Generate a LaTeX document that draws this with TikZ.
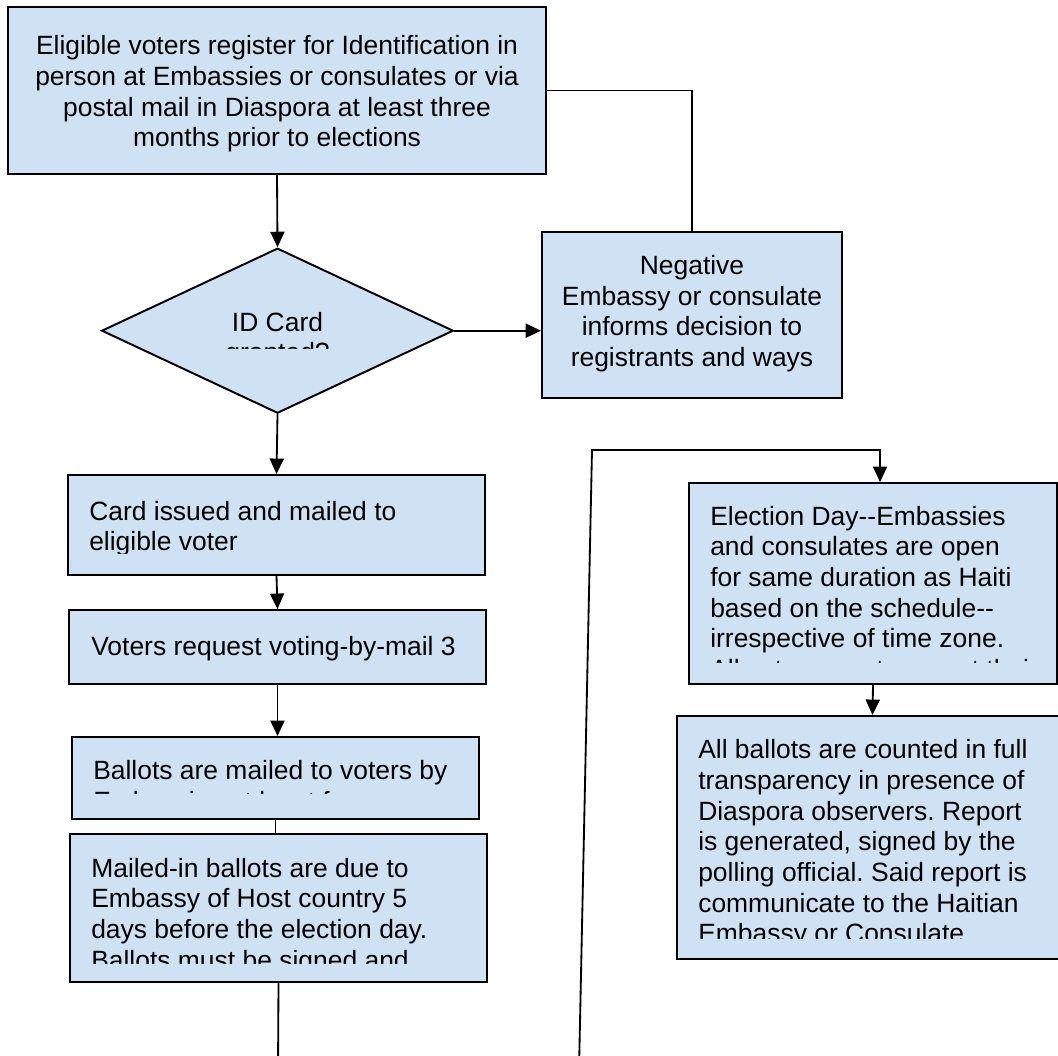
\documentclass[tikz,border=0pt]{standalone}
\usepackage{fontspec}
\setmainfont{Liberation Sans}
\usetikzlibrary{arrows.meta,fit,shapes.geometric}
\definecolor{boxfill}{HTML}{CFE2F3}
\frenchspacing

\begin{document}
\begin{tikzpicture}[x=0.025cm,y=-0.025cm,
  box/.style={draw=black,line width=1.4pt,fill=boxfill,inner sep=0pt},
  txt/.style={inner sep=0pt,align=left,anchor=north west,
    font=\fontsize{18.8}{21.8}\selectfont,execute at begin node=\strut},
  ctxt/.style={txt,align=center,anchor=north},
  arr/.style={-{Triangle[length=11pt,width=10pt]},line width=1.3pt},
  link/.style={line width=1.3pt}]
  \path[use as bounding box,clip] (0,0) rectangle (1058,1055);

  \node[box,fit={(8,7) (546,174)}] (reg) {};
  \node[ctxt] (regtxt) at (277,35.4) {Eligible voters register for Identification in\\
    person at Embassies or consulates or via\\postal mail in Diaspora at least three\\
    months prior to elections};

  \node[box,fit={(542,232) (842,398)}] (neg) {};
  \node[ctxt] (negtxt) at (692,255) {Negative\\Embassy or consulate\\
    informs decision to\\registrants and ways};

  \node[box,diamond,minimum width=8.79cm,minimum height=4.125cm] (dec) at (277.5,330.7) {};
  \begin{scope}
    \clip (100,240) rectangle (455,348);
    \node[ctxt] (dectxt) at (277.5,311.7) {ID Card\\granted?};
  \end{scope}

  \node[box,fit={(68,475) (485,575)}] (card) {};
  \begin{scope}
    \clip (68,475) rectangle (485,553);
    \node[txt] (cardtxt) at (89,500.7) {Card issued and mailed to\\eligible voter};
  \end{scope}

  \node[box,fit={(69,610) (486,684)}] (req) {};
  \node[txt] (reqtxt) at (91,633.5) {Voters request voting-by-mail 3};

  \node[box,fit={(72,737) (479,819)}] (mailout) {};
  \begin{scope}
    \clip (72,737) rectangle (479,793);
    \node[txt] (mailouttxt) at (93,760) {Ballots are mailed to voters by\\
      Embassies at least four};
  \end{scope}

  \node[box,fit={(70,834) (487,982)}] (mailin) {};
  \begin{scope}
    \clip (70,834) rectangle (487,963);
    \node[txt] (mailintxt) at (91,857.6) {Mailed-in ballots are due to\\
      Embassy of Host country 5\\days before the election day.\\
      Ballots must be signed and};
  \end{scope}

  \node[box,fit={(689,483) (1057,684)}] (eday) {};
  \begin{scope}
    \clip (689,483) rectangle (1057,662);
    \node[txt] (edaytxt) at (710,505.7) {Election Day-{}-Embassies\\
      and consulates are open\\for same duration as Haiti\\
      based on the schedule-{}-\\irrespective of time zone.\\
      All voters must present their};
  \end{scope}

  \node[box,fit={(677,716) (1068,959)}] (count) {};
  \begin{scope}
    \clip (677,716) rectangle (1068,938.5);
    \node[txt] (counttxt) at (698,739.3) {All ballots are counted in full\\
      transparency in presence of\\Diaspora observers. Report\\
      is generated, signed by the\\polling official. Said report is\\
      communicate to the Haitian\\Embassy or Consulate};
  \end{scope}

  \coordinate (out1) at (278,1070);
  \coordinate (in2) at (579,1070);
  \coordinate (turn) at (592,450);
  \draw[arr] (reg.south) -- (dec.north);
  \draw[arr] (dec.east) -- (dec.east -| neg.west);
  \draw[link] (reg.east) -| (neg.north);
  \draw[arr] (dec.south) -- (card.north);
  \draw[arr] (card.south) -- (req.north);
  \draw[arr] (req.south) -- (req.south |- mailout.north);
  \draw[link] (mailout.south) -- (mailout.south |- mailin.north);
  \draw[link] (mailin.south) -- (out1);
  \draw[arr] (in2) -- (turn) -| ([xshift=5pt]eday.north);
  \draw[arr] (eday.south) -- (count.north);
\end{tikzpicture}
\end{document}
